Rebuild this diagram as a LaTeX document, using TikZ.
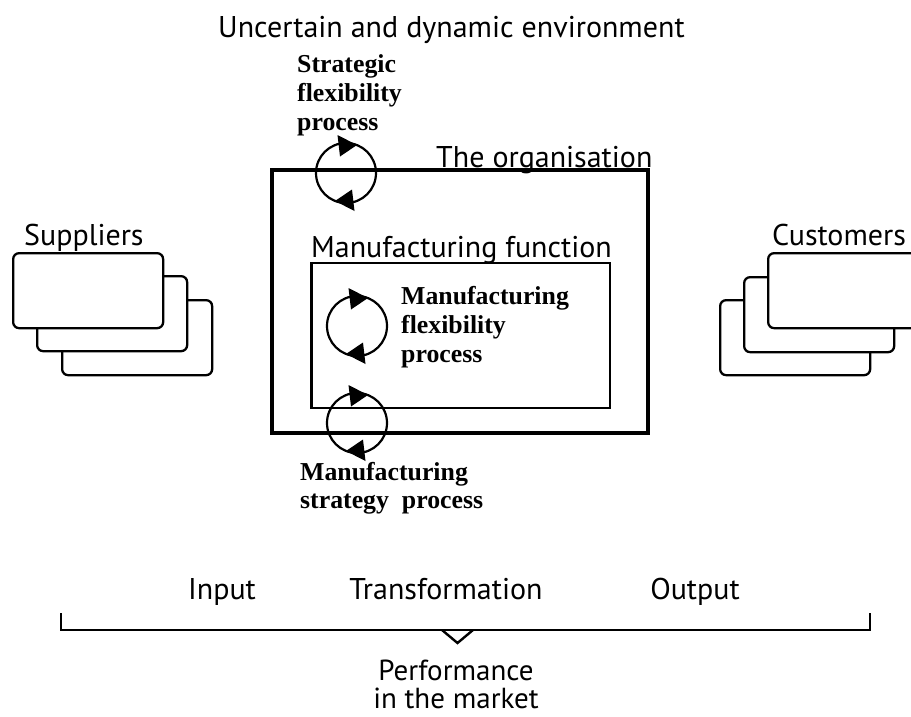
\documentclass[tikz,border=0pt]{standalone}
\usepackage{fontspec}
\setmainfont{Liberation Serif}
\setsansfont{PT Sans}
\begin{document}
\begin{tikzpicture}[x=1pt,y=-1pt,
  lbl/.style={font=\sffamily\fontsize{30}{34}\selectfont, inner sep=0pt, anchor=base west},
  bld/.style={font=\rmfamily\bfseries\fontsize{25.8}{29.5}\selectfont, inner sep=0pt, anchor=base west},
  card/.style={draw, line width=2.3pt, rounded corners=6pt, fill=white, minimum width=150pt, minimum height=75pt, anchor=north west, inner sep=0pt},
  loopline/.style={line width=2.2pt},
  cyc/.pic={
    \draw[loopline] (0,0) circle[radius=30];
    \fill (11,-28) -- (-8.5,-38) -- (-6,-16.5) -- cycle;
    \fill (-11,28) -- (8.5,38) -- (6,16.5) -- cycle;
  }]
\useasboundingbox (0,0) rectangle (911,716);

% environment title
\node[lbl] (env) at (218,37) {Uncertain and dynamic environment};

% organisation and manufacturing function boxes
\node[draw, line width=4.5pt, minimum width=376pt, minimum height=263pt, inner sep=0pt] (org) at (460,301.5) {};
\node[draw, line width=2.4pt, minimum width=298.5pt, minimum height=145pt, inner sep=0pt] (mf) at (460.75,335.5) {};
\node[lbl] (orgl) at (436,167) {The organisation};
\node[lbl] (mfl) at (311,257) {Manufacturing function};

% suppliers
\node[card] (s3) at (61,299) {};
\node[card] (s2) at (36,275) {};
\node[card] (s1) at (12,252) {};
\node[lbl] (sup) at (24,245) {Suppliers};

% customers
\node[card] (c3) at (719,299) {};
\node[card] (c2) at (743,276) {};
\node[card] (c1) at (767,252) {};
\node[lbl] (cus) at (772,245) {Customers};

% loops
\pic (sfp) at (346,173) {cyc};
\pic (mff) at (357,326) {cyc};
\pic (msp) at (357,423) {cyc};

% bold labels
\node[bld] (sfp1) at (297,72) {Strategic};
\node[bld] (sfp2) at (297,101) {flexibility};
\node[bld] (sfp3) at (297,130) {process};

\node[bld] (mff1) at (401,304) {Manufacturing};
\node[bld] (mff2) at (401,333) {flexibility};
\node[bld] (mff3) at (401,362) {process};

\node[bld] (msp1) at (300,480) {Manufacturing};
\node[bld] (msp2) at (300,508) {strategy\ \ process};

% input transformation output
\node[lbl, anchor=base] (inp) at (222,599) {Input};
\node[lbl, anchor=base] (trf) at (446,599) {Transformation};
\node[lbl, anchor=base] (outp) at (695,599) {Output};

% bracket
\coordinate (bl) at (61,613);
\coordinate (br) at (870,613);
\coordinate (vl) at (442,630);
\coordinate (vr) at (473,630);
\coordinate (vb) at (457.5,643);
\draw[line width=2.4pt] (bl) -- (bl |- vl) -- (br |- vl) -- (br);
\draw[line width=2.4pt] (vl) -- (vb) -- (vr);

\node[font=\sffamily\fontsize{29}{28}\selectfont, inner sep=0pt, align=center, anchor=north] (perf) at (456,660) {Performance\\in the market};
\end{tikzpicture}
\end{document}
